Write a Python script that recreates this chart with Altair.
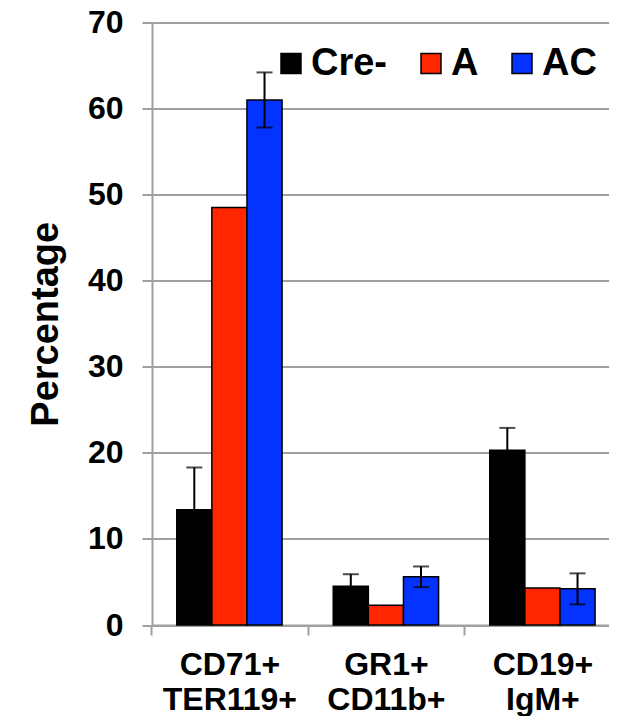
import altair as alt
import pandas as pd

# ---- data ----
categories = ["CD71+ TER119+", "GR1+ CD11b+", "CD19+ IgM+"]
groups = ["Cre-", "A", "AC"]
cre_vals = [13.4, 4.5, 20.3]
cre_err = [4.9, 1.4, 2.6]
a_vals = [48.5, 2.3, 4.3]
a_err = [0.0, 0.0, 0.0]
ac_vals = [61.0, 5.6, 4.2]
ac_err = [3.2, 1.2, 1.8]
colors = ["#000000", "#ff2600", "#0433ff"]
y_ticks = [0, 10, 20, 30, 40, 50, 60, 70]

rows = []
for g, vals, errs in zip(groups, [cre_vals, a_vals, ac_vals], [cre_err, a_err, ac_err]):
    for c, v, e in zip(categories, vals, errs):
        rows.append(dict(cat=c, group=g, value=v, err=e, lo=v - e, hi=v + e))
df = pd.DataFrame(rows)

FONT = "Liberation Sans"
GRAY = "#a0a0a0"
W, H = 457, 602.5
P_IN, P_OUT = 0.327, 0.1235
STEP = W / (3 - P_IN + 2 * P_OUT)

x_axis = alt.Axis(
    title=None, labelExpr="split(datum.label, ' ')", labelAngle=0,
    labelFontSize=32, labelFont=FONT, labelFontWeight="bold", labelColor="black",
    labelLineHeight=35, labelPadding=14, tickSize=10,
    tickOffset=-STEP / 2, labelOffset=STEP / 2,
    tickWidth=2, tickColor=GRAY, domainColor=GRAY, domainWidth=2, grid=False,
)
y_axis = alt.Axis(
    values=y_ticks, title="Percentage", titleFont=FONT, titleFontSize=38,
    titleFontWeight="bold", titleColor="black", titlePadding=22,
    labelFont=FONT, labelFontSize=32, labelFontWeight="bold", labelColor="black",
    labelPadding=19, tickSize=10, tickWidth=2, tickColor=GRAY,
    domainColor=GRAY, domainWidth=2, gridColor=GRAY, gridWidth=2,
)

x_enc = alt.X("cat:N", sort=categories,
              scale=alt.Scale(paddingInner=P_IN, paddingOuter=P_OUT, align=0.64),
              axis=x_axis)
xoff = alt.XOffset("group:N", sort=groups,
                   scale=alt.Scale(domain=groups, paddingInner=0, paddingOuter=0))
y_scale = alt.Scale(domain=[0, 70], nice=False)

bars = alt.Chart(df).mark_bar(stroke="black", strokeWidth=1.5).encode(
    x=x_enc,
    xOffset=xoff,
    y=alt.Y("value:Q", scale=y_scale, axis=y_axis),
    color=alt.Color(
        "group:N", sort=groups,
        scale=alt.Scale(domain=groups, range=colors),
        legend=alt.Legend(
            title=None, orient="none", legendX=120, legendY=22,
            direction="horizontal", symbolType="square", symbolSize=400,
            symbolStrokeColor="black", symbolStrokeWidth=1.5, symbolOpacity=1,
            labelFont=FONT, labelFontSize=38, labelFontWeight="bold",
            labelColor="black", labelOffset=1, columnPadding=24,
            padding=0,
        ),
    ),
)

err_rules = alt.Chart(df).transform_filter("datum.err > 0").mark_rule(
    color="black", strokeWidth=2
).encode(
    x=x_enc, xOffset=xoff,
    y=alt.Y("lo:Q", scale=y_scale, axis=y_axis),
    y2="hi:Q",
)

caps = alt.Chart(df).transform_filter("datum.err > 0").transform_fold(
    ["lo", "hi"], as_=["end", "pos"]
).mark_tick(color="black", thickness=2, size=16).encode(
    x=x_enc, xOffset=xoff,
    y=alt.Y("pos:Q", scale=y_scale, axis=y_axis),
)

chart = alt.layer(bars, err_rules, caps).properties(
    width=W, height=H,
    autosize=alt.AutoSizeParams(type="none"),
    padding={"left": 144, "top": 14.5, "right": 0, "bottom": 91},
    background="white",
).configure_view(stroke=None)

chart.save("out.html", embed_options={"renderer": "svg", "actions": False})
